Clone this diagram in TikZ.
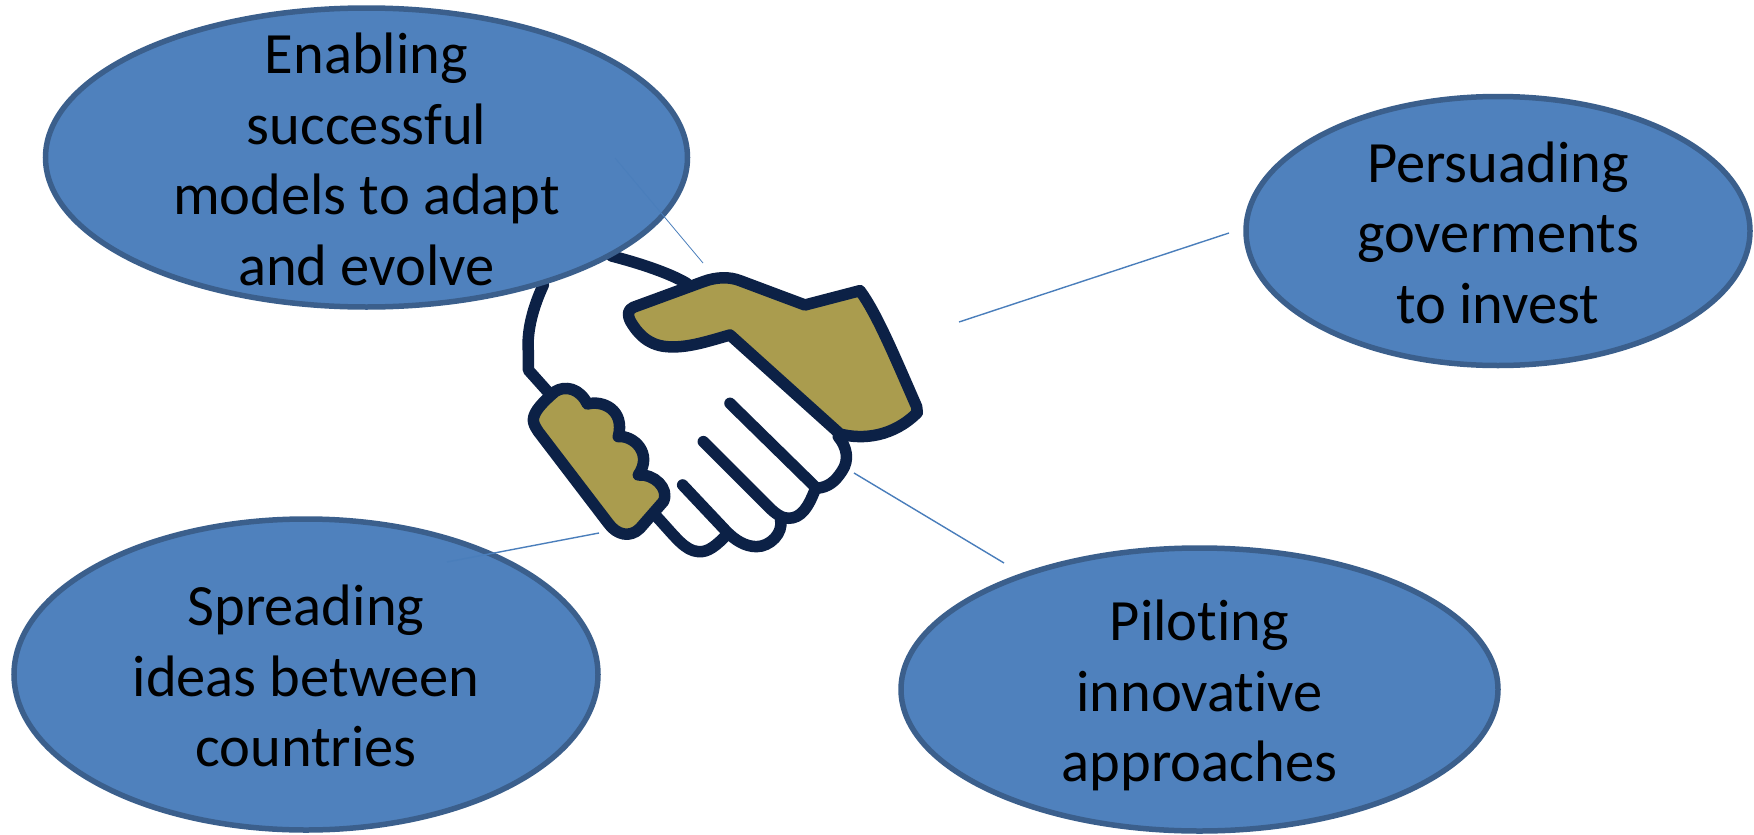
\documentclass[tikz,border=0pt]{standalone}
\usepackage{fontspec}
\setmainfont[Ligatures={NoCommon}]{Carlito}
\usetikzlibrary{shapes.geometric}
\definecolor{ellfill}{HTML}{4F81BD}
\definecolor{elledge}{HTML}{3B5F8C}
\definecolor{linkblue}{HTML}{4A7EBB}
\definecolor{navy}{HTML}{0C2146}
\definecolor{gold}{HTML}{AA9C4E}
\newcommand{\ovaltext}[2]{\makebox[0pt]{\smash{\raisebox{#1}{\begin{tabular}{@{}c@{}}#2\end{tabular}}}}}
\tikzset{
  oval/.style={ellipse,draw=elledge,fill=ellfill,line width=5.5pt,inner sep=0pt,outer sep=0pt,text=black,
    font=\fontsize{58.5}{70.5}\selectfont},
  link/.style={draw=linkblue,line width=1.4pt},
  hand/.style={draw=navy,line width=11.5pt,line cap=round,line join=round},
  cuff/.style={hand,fill=gold}
}
\begin{document}
\begin{tikzpicture}[x=1pt,y=-1pt]
\useasboundingbox (0,0) rectangle (1754,835);
% handshake (traced in a 3x grid with origin at 500,230)
\begin{scope}[shift={(500,230)},x=0.3333pt,y=-0.3333pt]
  \draw[hand] (335,78) .. controls (420,100) and (510,130) .. (560,160);
  \draw[hand] (130,165) .. controls (100,230) and (80,300) .. (85,365) -- (85,420) -- (145,487);
  \draw[hand] (1015,620) .. controls (1040,650) and (1050,690) .. (1025,725) .. controls (1005,755) and (985,772) .. (950,775);
  \draw[hand] (690,520) -- (945,770);
  \draw[hand] (945,780) .. controls (925,830) and (905,865) .. (865,865) .. controls (845,865) and (825,850) .. (805,830) -- (610,635);
  \draw[hand] (842,870) .. controls (850,910) and (810,950) .. (770,950) .. controls (735,950) and (705,930) .. (680,905) -- (548,765);
  \draw[hand] (680,915) .. controls (650,945) and (625,968) .. (595,965) .. controls (555,962) and (530,925) .. (470,860);
  \draw[cuff] (400,232) -- (610,155) .. controls (650,140) and (690,140) .. (720,152) -- (915,225) -- (1080,182)
     .. controls (1130,250) and (1180,370) .. (1250,530) -- (1252,548) .. controls (1180,620) and (1090,630) .. (1020,612)
     -- (690,315) .. controls (620,335) and (560,355) .. (500,350) .. controls (440,345) and (410,305) .. (392,275) .. controls (382,255) and (382,240) .. cycle;
  \draw[cuff] (100,570) .. controls (100,545) and (130,515) .. (165,485) .. controls (195,465) and (240,475) .. (262,522)
     .. controls (310,510) and (375,540) .. (355,620) .. controls (400,615) and (460,670) .. (415,735)
     .. controls (460,730) and (510,775) .. (490,815) -- (420,895) .. controls (390,925) and (350,915) .. (325,880) -- (115,605) .. controls (105,590) and (100,580) .. cycle;
\end{scope}
% ovals
\node[oval,minimum width=642pt,minimum height=299pt] (enable) at (366.5,157.5)
  {\ovaltext{-14pt}{Enabling\\successful\\models to adapt\\and evolve}};
\node[oval,minimum width=504pt,minimum height=269pt] (persuade) at (1498,231)
  {\ovaltext{-14pt}{Persuading\\goverments\\to invest}};
\node[oval,minimum width=584pt,minimum height=311pt] (spread) at (306,674.5)
  {\ovaltext{-14pt}{Spreading\\ideas between\\countries}};
\node[oval,minimum width=597pt,minimum height=283pt] (pilot) at (1199.5,689.5)
  {\ovaltext{-14pt}{Piloting\\innovative\\approaches}};
% connectors
\coordinate (handtop) at (703,263);
\coordinate (handright) at (959,322);
\coordinate (handleft) at (599,533);
\coordinate (handlow) at (854,473);
\coordinate (enableend) at (615,158);
\coordinate (persuadeend) at (1229,233);
\coordinate (spreadend) at (447,562);
\coordinate (pilotend) at (1004,563);
\draw[link,line width=0.8pt] (enableend) -- (handtop);
\draw[link] (handright) -- (persuadeend);
\draw[link] (handleft) -- (spreadend);
\draw[link] (handlow) -- (pilotend);
\end{tikzpicture}
\end{document}
